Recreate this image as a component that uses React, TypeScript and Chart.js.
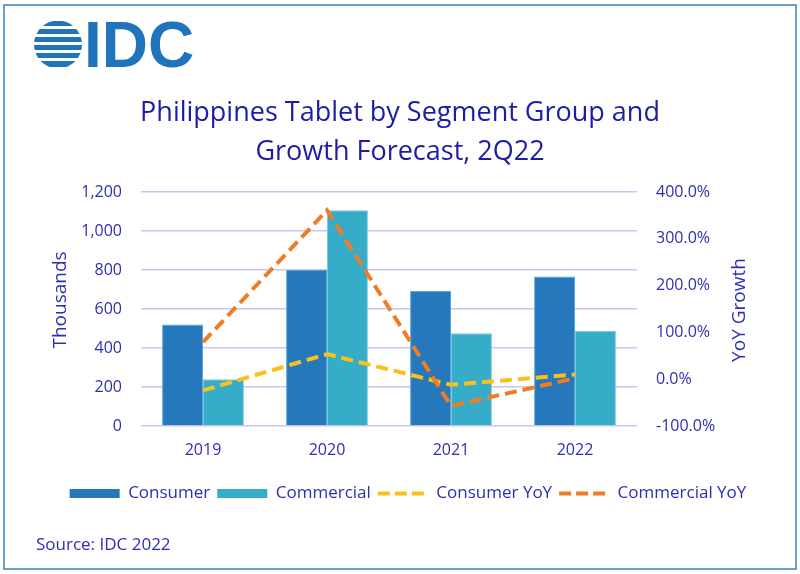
import React, { useEffect, useRef } from 'react';
import { Chart, registerables } from 'chart.js';

Chart.register(...registerables);

const categories = ['2019', '2020', '2021', '2022'];
const consumer = [521, 800, 692, 767];
const commercial = [240, 1106, 475, 488];
const consumerYoY = [-24, 53.5, -12, 10];
const commercialYoY = [79, 361, -57, 2];

const titleLines = ['Philippines Tablet by Segment Group and', 'Growth Forecast, 2Q22'];
const leftAxisTitle = 'Thousands';
const rightAxisTitle = 'YoY Growth';
const sourceText = 'Source: IDC 2022';

const FONT = "'Open Sans', 'Noto Sans', sans-serif";
const TEXT = '#2e2eb4';
const TITLE = '#1c1ca6';

const axisTitlePlugin = {
  id: 'axisTitles',
  afterLayout(chart: any) {
    const lg = chart.legend;
    if (lg) {
      lg.left += 8;
      lg.right += 8;
    }
  },
  afterDraw(chart: any) {
    const { ctx } = chart;
    ctx.save();
    ctx.fillStyle = TEXT;
    ctx.font = `19px ${FONT}`;
    ctx.textAlign = 'center';
    ctx.textBaseline = 'middle';
    ctx.translate(61, 300);
    ctx.rotate(-Math.PI / 2);
    ctx.fillText(leftAxisTitle, 0, 0);
    ctx.restore();
    ctx.save();
    ctx.fillStyle = TEXT;
    ctx.font = `19px ${FONT}`;
    ctx.textAlign = 'center';
    ctx.textBaseline = 'middle';
    ctx.translate(740, 310);
    ctx.rotate(-Math.PI / 2);
    ctx.fillText(rightAxisTitle, 0, 0);
    ctx.restore();
  },
};

function Logo() {
  const stripes = [
    { y: 21, h: 5 },
    { y: 29, h: 5 },
    { y: 37, h: 5 },
    { y: 45, h: 5 },
    { y: 53, h: 5 },
    { y: 61, h: 6 },
  ];
  return (
    <svg width={90} height={80} style={{ position: 'absolute', left: 0, top: 0 }}>
      <defs>
        <clipPath id="globe">
          <circle cx={58} cy={44.5} r={24} />
        </clipPath>
      </defs>
      <g clipPath="url(#globe)" fill="#1f74bb">
        {stripes.map((s, i) => (
          <rect key={i} x={30} y={s.y} width={60} height={s.h} />
        ))}
      </g>
    </svg>
  );
}

export default function App() {
  const ref = useRef<HTMLCanvasElement>(null);
  useEffect(() => {
    if (!ref.current) return;
    const chart = new Chart(ref.current, {
      type: 'bar',
      data: {
        labels: categories,
        datasets: [
          {
            type: 'bar',
            label: 'Consumer',
            data: consumer,
            backgroundColor: '#2478bb',
            borderColor: '#5aa2d8',
            borderWidth: 1,
            yAxisID: 'y',
            categoryPercentage: 0.66,
            barPercentage: 1,
            order: 2,
          },
          {
            type: 'bar',
            label: 'Commercial',
            data: commercial,
            backgroundColor: '#36adc8',
            borderColor: '#7cc8dc',
            borderWidth: 1,
            yAxisID: 'y',
            categoryPercentage: 0.66,
            barPercentage: 1,
            order: 2,
          },
          {
            type: 'line',
            label: 'Consumer YoY',
            data: consumerYoY,
            borderColor: '#fbc01a',
            backgroundColor: '#fbc01a',
            borderWidth: 4,
            borderDash: [12, 6],
            pointRadius: 0,
            tension: 0,
            fill: false,
            yAxisID: 'y1',
            order: 1,
          },
          {
            type: 'line',
            label: 'Commercial YoY',
            data: commercialYoY,
            borderColor: '#f07d25',
            backgroundColor: '#f07d25',
            borderWidth: 4,
            borderDash: [12, 6],
            pointRadius: 0,
            tension: 0,
            fill: false,
            yAxisID: 'y1',
            order: 0,
          },
        ] as any,
      },
      options: {
        responsive: false,
        animation: false,
        events: [],
        layout: { padding: { left: 0, right: 0, top: 0, bottom: 62 } },
        plugins: {
          title: {
            display: true,
            text: titleLines,
            color: TITLE,
            font: { family: FONT, size: 27, weight: 'normal', lineHeight: 1.444 },
            padding: { top: 94, bottom: 20 },
          },
          legend: {
            display: true,
            position: 'bottom',
            labels: {
              usePointStyle: true,
              pointStyleWidth: 50,
              boxHeight: 9,
              padding: 7,
              color: TEXT,
              font: { family: FONT, size: 17 },
              generateLabels: (c: any) =>
                c.data.datasets.map((ds: any, i: number) => {
                  const isLine = ds.type === 'line';
                  return {
                    text: ds.label,
                    datasetIndex: i,
                    fillStyle: isLine ? 'rgba(0,0,0,0)' : ds.backgroundColor,
                    strokeStyle: isLine ? ds.borderColor : ds.backgroundColor,
                    lineWidth: isLine ? 4 : 0,
                    lineDash: isLine ? [12, 5] : [],
                    lineCap: 'butt',
                    pointStyle: isLine ? 'line' : 'rect',
                    fontColor: TEXT,
                    hidden: false,
                  };
                }),
            },
          },
          tooltip: { enabled: false },
        },
        scales: {
          x: {
            offset: true,
            grid: { display: false, drawTicks: false },
            border: { display: false },
            ticks: { color: TEXT, font: { family: FONT, size: 16 }, padding: 15 },
            afterFit: (s: any) => {
              s.height = 52;
            },
          },
          y: {
            position: 'left',
            min: 0,
            max: 1200,
            ticks: {
              stepSize: 200,
              padding: 19,
              color: TEXT,
              font: { family: FONT, size: 16 },
              callback: (v: any) => Number(v).toLocaleString('en-US'),
            },
            grid: { color: '#c6c6f2', lineWidth: 1.5, drawTicks: false },
            border: { display: false },
            afterFit: (s: any) => {
              s.width = 141;
            },
          },
          y1: {
            position: 'right',
            min: -100,
            max: 400,
            ticks: {
              stepSize: 100,
              padding: 19,
              color: TEXT,
              font: { family: FONT, size: 16 },
              callback: (v: any) => `${Number(v).toFixed(1)}%`,
            },
            grid: { display: false, drawTicks: false },
            border: { display: false },
            afterFit: (s: any) => {
              s.width = 163;
            },
          },
        },
      } as any,
      plugins: [axisTitlePlugin],
    });
    return () => chart.destroy();
  }, []);

  return (
    <div style={{ position: 'absolute', left: 0, top: 0, width: 800, height: 574, background: '#fff', overflow: 'hidden' }}>
      <div
        style={{
          position: 'absolute',
          left: 3,
          top: 4,
          width: 790,
          height: 562,
          border: '2px solid #6a9fd6',
        }}
      />
      <canvas ref={ref} width={800} height={574} style={{ position: 'absolute', left: 0, top: 0 }} />
      <Logo />
      <div
        style={{
          position: 'absolute',
          left: 84,
          top: 12.6,
          fontFamily: "'Liberation Sans', Arial, sans-serif",
          fontWeight: 'bold',
          fontSize: 64,
          lineHeight: '64px',
          color: '#1f74bb',
          whiteSpace: 'nowrap',
        }}
      >
        IDC
      </div>
      <div
        style={{
          position: 'absolute',
          left: 36,
          top: 533,
          fontFamily: FONT,
          fontSize: 17,
          lineHeight: '22px',
          color: TEXT,
          whiteSpace: 'nowrap',
        }}
      >
        {sourceText}
      </div>
    </div>
  );
}
